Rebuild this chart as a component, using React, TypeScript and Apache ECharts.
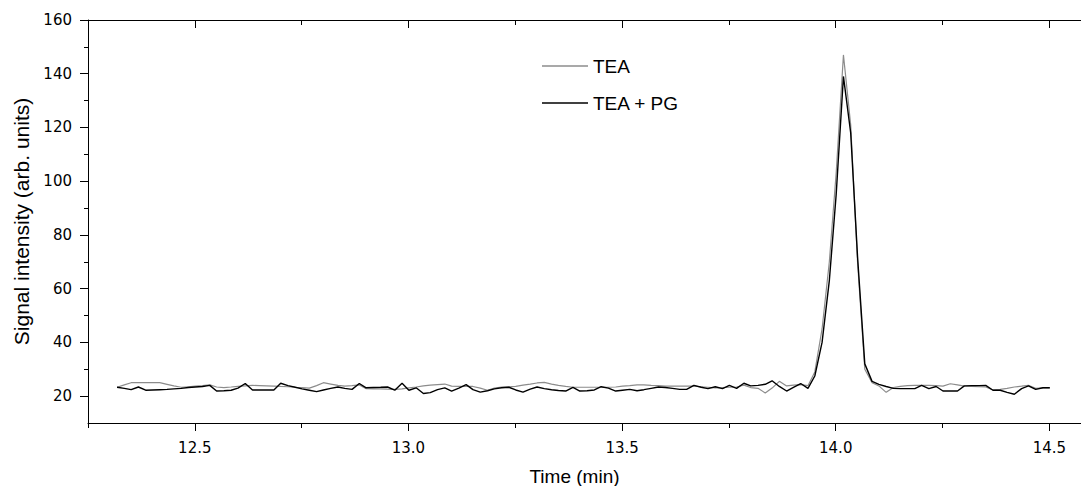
import React, { useEffect, useRef } from "react";
import * as echarts from "echarts";

const times = [
  12.318, 12.335, 12.351, 12.368, 12.385, 12.401, 12.418, 12.435, 12.451,
  12.468, 12.485, 12.501, 12.518, 12.535, 12.551, 12.568, 12.585, 12.601,
  12.618, 12.635, 12.651, 12.668, 12.685, 12.701, 12.718, 12.735, 12.751,
  12.768, 12.785, 12.801, 12.818, 12.835, 12.851, 12.868, 12.885, 12.901,
  12.918, 12.935, 12.951, 12.968, 12.985, 13.001, 13.018, 13.035, 13.051,
  13.068, 13.085, 13.101, 13.118, 13.135, 13.151, 13.168, 13.185, 13.201,
  13.218, 13.235, 13.251, 13.268, 13.285, 13.301, 13.318, 13.335, 13.351,
  13.368, 13.385, 13.401, 13.418, 13.435, 13.451, 13.468, 13.485, 13.501,
  13.518, 13.535, 13.551, 13.568, 13.585, 13.601, 13.618, 13.635, 13.651,
  13.668, 13.685, 13.701, 13.718, 13.735, 13.751, 13.768, 13.785, 13.801,
  13.818, 13.835, 13.851, 13.868, 13.885, 13.901, 13.918, 13.935, 13.951,
  13.968, 13.985, 14.001, 14.018, 14.035, 14.051, 14.068, 14.085, 14.101,
  14.118, 14.135, 14.151, 14.168, 14.185, 14.201, 14.218, 14.235, 14.251,
  14.268, 14.285, 14.301, 14.318, 14.335, 14.351, 14.368, 14.385, 14.401,
  14.418, 14.435, 14.451, 14.468, 14.485, 14.501,
];

const teaValues = [
  23.3, 24.2, 25.0, 25.0, 25.0, 25.0, 25.0, 24.4, 23.8, 23.3,
  23.5, 23.7, 23.9, 24.2, 23.4, 23.2, 23.4, 23.6, 23.8, 24.0,
  23.9, 23.8, 23.7, 23.6, 23.5, 23.3, 23.2, 23.0, 23.9, 25.0,
  24.5, 24.0, 23.7, 23.9, 24.2, 22.8, 22.7, 22.7, 22.6, 22.5,
  22.7, 23.1, 23.4, 23.8, 24.1, 24.3, 24.5, 23.7, 23.6, 23.6,
  23.6, 23.0, 22.2, 23.0, 23.4, 23.5, 23.6, 24.1, 24.5, 24.9,
  25.1, 24.5, 24.0, 23.6, 23.3, 23.3, 23.3, 23.3, 23.3, 23.3,
  23.4, 23.7, 23.9, 24.2, 24.2, 24.0, 23.9, 23.7, 23.7, 23.7,
  23.7, 23.7, 23.5, 23.3, 23.1, 23.2, 23.3, 23.4, 24.1, 23.2,
  22.9, 21.2, 23.0, 25.5, 23.8, 24.1, 24.3, 23.9, 29.0, 45.0,
  70.0, 103.0, 147.0, 121.0, 70.0, 30.0, 25.0, 23.8, 21.4, 23.2,
  23.6, 23.9, 24.0, 24.0, 24.0, 23.9, 23.7, 24.6, 24.2, 23.7,
  23.6, 23.5, 23.4, 22.3, 22.5, 22.9, 23.4, 23.7, 24.0, 22.9,
  23.1, 23.1,
];

const teaPgValues = [
  23.3, 22.9, 22.4, 23.4, 22.2, 22.3, 22.4, 22.5, 22.7, 22.9,
  23.2, 23.4, 23.6, 24.0, 21.9, 22.0, 22.2, 23.0, 24.7, 22.3,
  22.3, 22.3, 22.3, 24.8, 23.9, 23.3, 22.7, 22.2, 21.7, 22.3,
  22.9, 23.4, 22.9, 22.5, 24.7, 23.1, 23.2, 23.3, 23.4, 22.2,
  24.8, 22.2, 23.1, 21.0, 21.3, 22.4, 23.1, 21.9, 23.0, 24.3,
  22.4, 21.5, 22.0, 22.7, 23.1, 23.3, 22.3, 21.5, 22.6, 23.4,
  22.8, 22.4, 22.1, 21.9, 23.3, 21.9, 22.0, 22.3, 23.5, 23.0,
  21.9, 22.2, 22.5, 22.0, 22.4, 22.9, 23.4, 23.2, 22.9, 22.5,
  22.5, 24.0, 23.3, 22.8, 23.5, 22.8, 24.0, 22.9, 24.8, 23.8,
  24.0, 24.4, 25.7, 23.6, 21.9, 23.3, 24.7, 22.9, 27.5, 40.0,
  63.0, 95.0, 139.0, 118.0, 72.0, 32.0, 25.5, 24.4, 23.6, 22.9,
  22.8, 22.8, 22.8, 24.0, 22.8, 23.6, 21.9, 21.9, 21.9, 23.8,
  23.9, 23.9, 24.0, 22.2, 22.2, 21.4, 20.7, 22.8, 23.8, 22.5,
  23.1, 23.1,
];

const seriesNames = ["TEA", "TEA + PG"];
const xMajorTicks = [12.5, 13.0, 13.5, 14.0, 14.5];
const xMinorTicks = [12.25, 12.75, 13.25, 13.75, 14.25];
const yMajorTicks = [20, 40, 60, 80, 100, 120, 140, 160];
const yMinorTicks = [30, 50, 70, 90, 110, 130, 150];

export default function App() {
  const ref = useRef<HTMLDivElement>(null);

  useEffect(() => {
    if (!ref.current) return;
    const chart = echarts.init(ref.current, null, { renderer: "svg" });
    const arial = "Arial, 'Liberation Sans', sans-serif";
    const tickFont = "'DejaVu Sans', Arial, sans-serif";
    const black = "#000";
    const xRange = { min: 12.25, max: 14.574 };
    const yRange = { min: 10, max: 160 };

    const xAxisBase = {
      type: "value" as const,
      ...xRange,
      splitLine: { show: false },
      axisLine: { show: false, lineStyle: { color: black, width: 1 } },
    };
    const yAxisBase = {
      type: "value" as const,
      ...yRange,
      splitLine: { show: false },
      axisLine: { show: false, lineStyle: { color: black, width: 1 } },
    };

    chart.setOption({
      animation: false,
      backgroundColor: "#fff",
      grid: {
        left: 88,
        right: 0,
        top: 20,
        bottom: 63,
        containLabel: false,
        outerBoundsMode: "none",
      },
      legend: {
        orient: "vertical",
        left: 542,
        top: 56,
        padding: 0,
        itemWidth: 46,
        itemHeight: 1.5,
        itemGap: 17,
        icon: "rect",
        textStyle: { fontSize: 19, fontFamily: arial, color: black, lineHeight: 20 },
        data: seriesNames,
      },
      xAxis: [
        {
          ...xAxisBase,
          position: "bottom",
          axisLine: { show: true, lineStyle: { color: black, width: 1 } },
          axisTick: { show: true, customValues: xMajorTicks, length: 8, inside: false, lineStyle: { color: black } },
          axisLabel: {
            show: true,
            customValues: xMajorTicks,
            formatter: (v: number) => v.toFixed(1),
            margin: 17,
            color: black,
            fontSize: 15,
            fontFamily: tickFont,
          },
          name: "Time (min)",
          nameLocation: "middle",
          nameGap: 44,
          nameTextStyle: { fontSize: 19, fontFamily: arial, color: black, padding: [0, 20, 0, 0] },
        },
        {
          ...xAxisBase,
          position: "bottom",
          axisTick: { show: true, customValues: xMinorTicks, length: 5, inside: false, lineStyle: { color: black } },
          axisLabel: { show: false },
        },
        {
          ...xAxisBase,
          position: "top",
          axisLine: { show: true, lineStyle: { color: black, width: 1 } },
          axisTick: { show: true, customValues: xMajorTicks, length: 8, inside: true, lineStyle: { color: black } },
          axisLabel: { show: false },
        },
        {
          ...xAxisBase,
          position: "top",
          axisTick: { show: true, customValues: xMinorTicks, length: 5, inside: true, lineStyle: { color: black } },
          axisLabel: { show: false },
        },
      ],
      yAxis: [
        {
          ...yAxisBase,
          position: "left",
          axisLine: { show: true, lineStyle: { color: black, width: 1 } },
          axisTick: { show: true, customValues: yMajorTicks, length: 8, inside: false, lineStyle: { color: black } },
          axisLabel: {
            show: true,
            customValues: yMajorTicks,
            margin: 16,
            color: black,
            fontSize: 15,
            fontFamily: tickFont,
          },
          name: "Signal intensity (arb. units)",
          nameLocation: "middle",
          nameGap: 56,
          nameTextStyle: { fontSize: 21, fontFamily: arial, color: black },
        },
        {
          ...yAxisBase,
          position: "left",
          axisTick: { show: true, customValues: yMinorTicks, length: 4, inside: false, lineStyle: { color: black } },
          axisLabel: { show: false },
        },
      ],
      series: [
        {
          name: seriesNames[0],
          type: "line",
          xAxisIndex: 0,
          yAxisIndex: 0,
          data: times.map((t, i) => [t, teaValues[i]]),
          showSymbol: false,
          symbol: "none",
          color: "#8c8c8c",
          lineStyle: { color: "#8c8c8c", width: 1.2 },
          z: 2,
        },
        {
          name: seriesNames[1],
          type: "line",
          xAxisIndex: 0,
          yAxisIndex: 0,
          data: times.map((t, i) => [t, teaPgValues[i]]),
          showSymbol: false,
          symbol: "none",
          color: "#000000",
          lineStyle: { color: "#000000", width: 1.4 },
          z: 3,
        },
      ],
    });

    return () => chart.dispose();
  }, []);

  return (
    <div
      ref={ref}
      style={{ position: "fixed", left: 0, top: 0, width: 1081, height: 486, background: "#fff" }}
    />
  );
}
